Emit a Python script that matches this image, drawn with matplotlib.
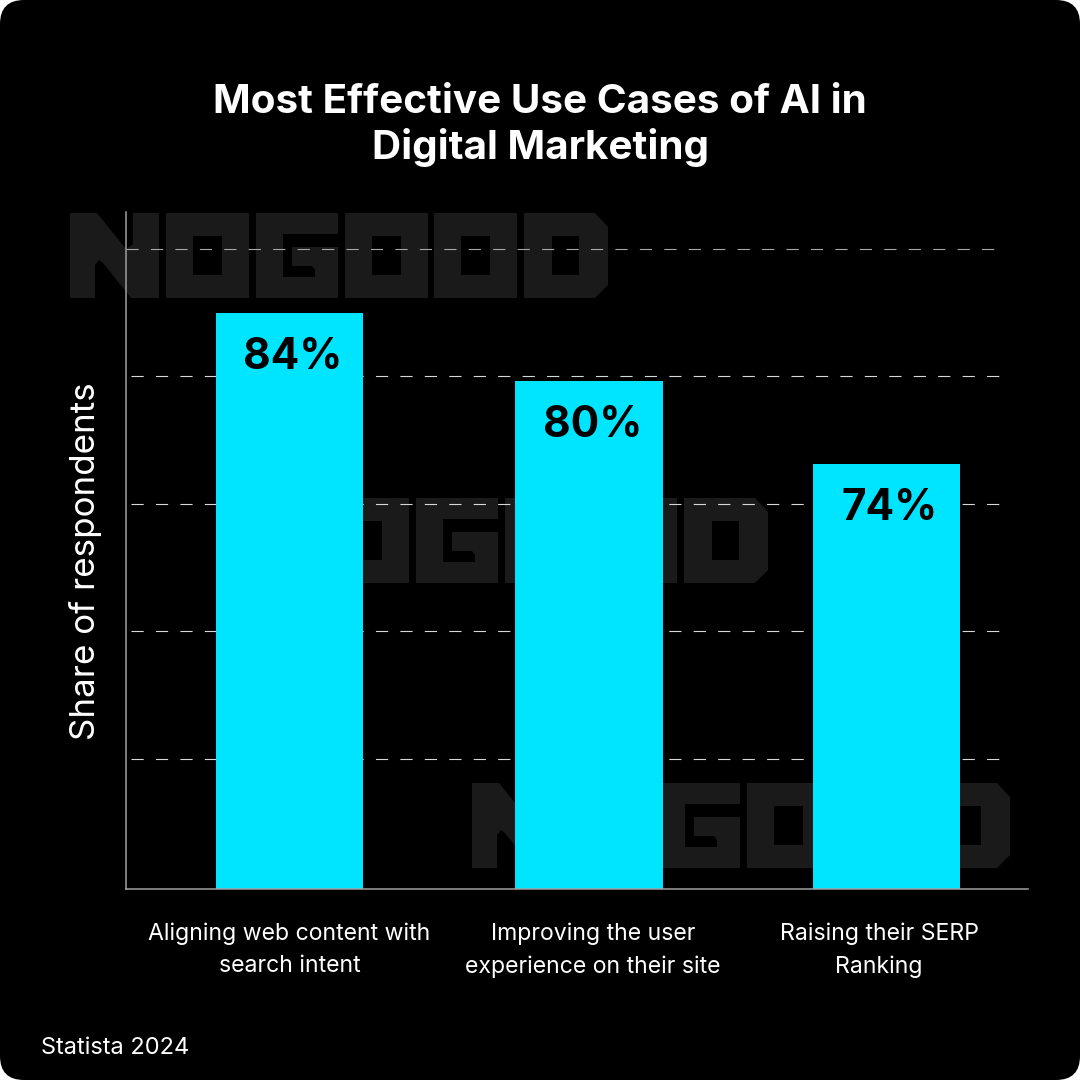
# plot.py

"""
Draws the AI use cases bar chart on a black rounded card.
Run with: python plot.py
This will save the chart as out.png.
"""

import matplotlib.pyplot as plt
from matplotlib.patches import FancyBboxPatch

categories = ["Aligning web content with\nsearch intent",
              "Improving the user\nexperience on their site",
              "Raising their SERP\nRanking"]
value_labels = ["84%", "80%", "74%"]
bar_heights = [90.4, 79.7, 66.7]  # drawn heights, not the labels
grid_levels = [20.4, 40.4, 60.4, 80.4, 100.4]
grid_starts = [131, 131, 131, 131, 126]
grid_ends = [1003, 1003, 1003, 1003, 994]
grid_colors = ["#d8d8d8", "#d8d8d8", "#d8d8d8", "#d8d8d8", "#a8a8a8"]

plt.rcParams["font.family"] = ["Inter", "DejaVu Sans"]

PX_PER_UNIT = 6.375
AXIS_LEFT, AXIS_RIGHT, AXIS_TOP, AXIS_BOTTOM = 126, 1028, 212, 889
WATERMARK = "#1a1a1a"


def draw_letter(letter, x, y):
    # Outline of one logo letter, holes are filled black over it
    outlines = {
        "N": [(0, 0), (27, 0), (56, 36), (63, 31), (63, 0), (89, 0), (89, 85),
              (61, 85), (33, 50), (29, 47), (25, 52), (25, 85), (0, 85)],
        "O": [(0, 0), (83, 0), (83, 85), (0, 85)],
        "G": [(0, 0), (82, 0), (82, 85), (0, 85)],
        "D": [(0, 0), (71, 0), (84, 14), (84, 72), (71, 85), (0, 85)],
    }
    holes = {
        "N": [],
        "O": [(27, 23), (56, 23), (56, 62), (27, 62)],
        "G": [(27, 21), (82, 21), (82, 34), (36, 34), (36, 53), (56, 53),
              (59, 57), (59, 64), (27, 64)],
        "D": [(28, 23), (55, 23), (55, 62), (28, 62)],
    }
    plt.fill([x + p[0] for p in outlines[letter]], [y + p[1] for p in outlines[letter]],
             color=WATERMARK, lw=0)
    if holes[letter]:
        plt.fill([x + p[0] for p in holes[letter]], [y + p[1] for p in holes[letter]],
                 color="black", lw=0)


def draw_watermark(x, y):
    # One NOGOOD logo with its top left corner at x, y
    for letter, offset in zip("NOGOOD", [0, 96, 186, 275, 364, 454]):
        draw_letter(letter, x + offset, y)


def draw_background():
    plt.axes([0, 0, 1, 1])
    plt.xlim(0, 1080)
    plt.ylim(1080, 0)
    plt.axis("off")
    plt.gca().add_patch(FancyBboxPatch((0, 0), 1080, 1080, boxstyle="round,pad=0,rounding_size=24",
                                       fc="black", ec="none"))
    draw_watermark(70, 213)
    draw_watermark(230, 498)
    draw_watermark(472, 783)


def draw_chart():
    plt.axes([AXIS_LEFT / 1080, 1 - AXIS_BOTTOM / 1080,
              (AXIS_RIGHT - AXIS_LEFT) / 1080, (AXIS_BOTTOM - AXIS_TOP) / 1080])
    plt.gca().patch.set_alpha(0)
    x = [0, 1.003, 2]
    tick_x = [0, 1.017, 1.975]  # labels are not quite under the bars
    x_per_px = 1 / 298.5
    x_min = -(289.5 - AXIS_LEFT) * x_per_px
    x_max = x_min + (AXIS_RIGHT - AXIS_LEFT) * x_per_px
    plt.xlim(x_min, x_max)
    plt.ylim(0, (AXIS_BOTTOM - AXIS_TOP) / PX_PER_UNIT)

    # dashed grid sits under the bars
    for level, start, end, color in zip(grid_levels, grid_starts, grid_ends, grid_colors):
        plt.plot([x_min + (start - AXIS_LEFT) * x_per_px, x_min + (end - AXIS_LEFT) * x_per_px],
                 [level, level], color=color, lw=0.8, ls=(0, (11, 11)), zorder=1)

    plt.bar(x, bar_heights, width=0.494, color="#00e5ff", zorder=2)
    for i, label in enumerate(value_labels):
        plt.text(x[i] + 0.012, bar_heights[i] - 7, label, ha="center", va="center",
                 fontsize=30.5, fontweight="bold", color="black", zorder=3)

    plt.xticks(tick_x, categories, color="white", fontsize=16.6, linespacing=1.62)
    plt.yticks([])
    plt.tick_params(axis="x", length=0, pad=24)
    plt.ylabel("Share of respondents", color="white", fontsize=25.2, labelpad=17, y=0.485)
    for side in ["top", "right"]:
        plt.gca().spines[side].set_visible(False)
    for side in ["left", "bottom"]:
        plt.gca().spines[side].set_color("#a0a0a0")
        plt.gca().spines[side].set_linewidth(1.1)


def generate_chart():
    plt.figure(figsize=(10.8, 10.8), dpi=100, facecolor="white")
    draw_background()
    draw_chart()
    plt.suptitle("Most Effective Use Cases of AI in\nDigital Marketing", x=0.5, y=0.9225,
                 color="white", fontsize=29.1, fontweight="bold", linespacing=1.24)
    plt.figtext(41 / 1080, 1 - 1048 / 1080, "Statista 2024", color="white", fontsize=17, va="center")
    plt.savefig("out.png")
    plt.close()


if __name__ == "__main__":
    generate_chart()
